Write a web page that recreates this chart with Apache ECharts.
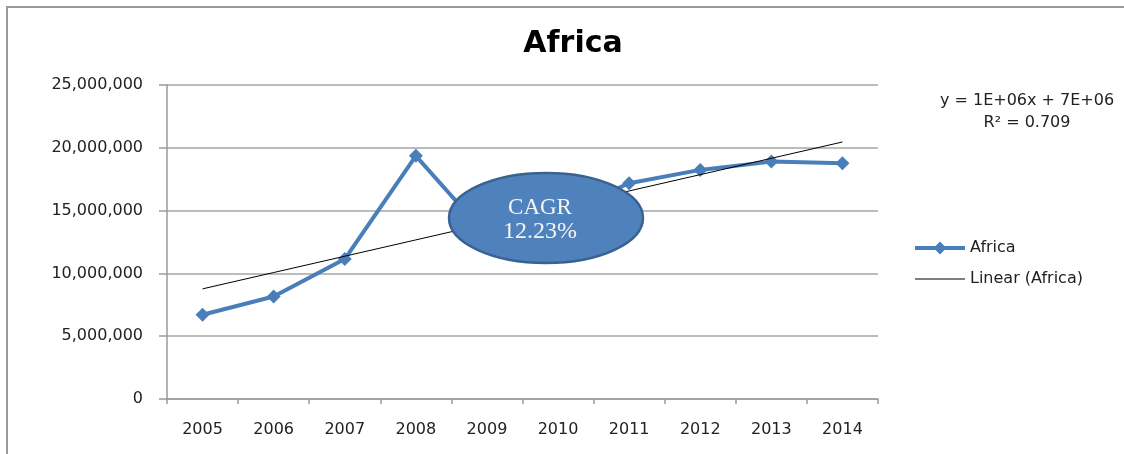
<!DOCTYPE html>
<html>
<head>
<meta charset="utf-8">
<title>Africa</title>
<script src="https://cdn.jsdelivr.net/npm/echarts@6/dist/echarts.min.js"></script>
<style>
  html, body { margin: 0; padding: 0; background: #fff; overflow: hidden; }
  #chart { width: 1124px; height: 454px; }
</style>
</head>
<body>
<div id="chart"></div>
<script>
// values
var years = ['2005', '2006', '2007', '2008', '2009', '2010', '2011', '2012', '2013', '2014'];
var africa = [6710000, 8160000, 11140000, 19360000, 13000000, 14700000, 17180000, 18240000, 18900000, 18770000];
var yTicks = [0, 5000000, 10000000, 15000000, 20000000, 25000000];
var equationText = ['y = 1E+06x + 7E+06', 'R\u00b2 = 0.709'];
var cagrText = ['CAGR', '12.23%'];

// excel style linear trend (x = 1..n)
function linearTrend(vals) {
  var n = vals.length, sx = 0, sy = 0, sxy = 0, sxx = 0;
  for (var i = 0; i < n; i++) {
    var x = i + 1;
    sx += x; sy += vals[i]; sxy += x * vals[i]; sxx += x * x;
  }
  var slope = (n * sxy - sx * sy) / (n * sxx - sx * sx);
  var icpt = (sy - slope * sx) / n;
  return vals.map(function (v, i) { return slope * (i + 1) + icpt; });
}
var trend = linearTrend(africa);

var chart = echarts.init(document.getElementById('chart'));
var font = 'DejaVu Sans';

chart.setOption({
  animation: false,
  backgroundColor: '#fff',
  title: {
    text: 'Africa',
    left: 568,
    top: 24,
    textAlign: 'center',
    textStyle: { fontFamily: font, fontSize: 30, fontWeight: 'bold', color: '#000' }
  },
  grid: { left: 167, right: 246, top: 85, bottom: 55 },
  legend: {
    orient: 'vertical',
    left: 908,
    top: 235,
    itemWidth: 50,
    itemHeight: 16,
    itemGap: 15,
    data: [
      { name: 'Africa', lineStyle: { width: 4 } },
      { name: 'Linear (Africa)', itemStyle: { opacity: 0 }, lineStyle: { width: 1 } }
    ],
    textStyle: { fontFamily: font, fontSize: 16, color: '#222' }
  },
  xAxis: {
    type: 'category',
    data: years,
    boundaryGap: true,
    axisLine: { lineStyle: { color: '#9a9a9a', width: 1.5 } },
    axisTick: { show: true, length: 5, lineStyle: { color: '#9a9a9a', width: 1.5 } },
    axisLabel: { fontFamily: font, fontSize: 16, color: '#222', margin: 23 },
    splitLine: { show: false }
  },
  yAxis: {
    type: 'value',
    min: yTicks[0],
    max: yTicks[yTicks.length - 1],
    interval: yTicks[1] - yTicks[0],
    axisLine: { show: true, lineStyle: { color: '#9a9a9a', width: 1.5 } },
    axisTick: { show: true, length: 8, lineStyle: { color: '#9a9a9a', width: 1.5 } },
    axisLabel: {
      fontFamily: font, fontSize: 16, color: '#222', margin: 24,
      formatter: function (v) { return v.toLocaleString('en-US'); }
    },
    splitLine: { lineStyle: { color: '#a6a6a6', width: 1.5 } }
  },
  series: [
    {
      name: 'Africa',
      type: 'line',
      data: africa,
      symbol: 'diamond',
      symbolSize: 14,
      color: '#4A7EBB',
      lineStyle: { width: 4, color: '#4A7EBB' },
      itemStyle: { color: '#4A7EBB' },
      z: 2
    },
    {
      name: 'Linear (Africa)',
      type: 'line',
      data: trend,
      symbol: 'none',
      color: '#000',
      lineStyle: { width: 1, color: '#000' },
      z: 3
    }
  ],
  graphic: [
    {
      type: 'polyline',
      shape: { points: [[7, 454], [7, 7], [1124, 7]] },
      style: { fill: 'none', stroke: '#9a9a9a', lineWidth: 2 },
      silent: true
    },
    {
      type: 'ellipse',
      shape: { cx: 546, cy: 218, rx: 97, ry: 45 },
      style: { fill: '#4F81BD', stroke: '#3A6291', lineWidth: 2.5 },
      z: 100
    },
    {
      type: 'text',
      x: 540, y: 208, z: 101,
      style: {
        text: cagrText[0], fill: '#f4f4f4', align: 'center', verticalAlign: 'middle',
        font: '23px "Liberation Serif", serif'
      }
    },
    {
      type: 'text',
      x: 540, y: 232, z: 101,
      style: {
        text: cagrText[1], fill: '#f4f4f4', align: 'center', verticalAlign: 'middle',
        font: '24px "Liberation Serif", serif'
      }
    },
    {
      type: 'text',
      x: 1027, y: 101,
      style: {
        text: equationText[0], fill: '#222', align: 'center', verticalAlign: 'middle',
        font: '16px "DejaVu Sans"'
      }
    },
    {
      type: 'text',
      x: 1027, y: 123,
      style: {
        text: equationText[1], fill: '#222', align: 'center', verticalAlign: 'middle',
        font: '16px "DejaVu Sans"'
      }
    }
  ]
});
</script>
</body>
</html>
